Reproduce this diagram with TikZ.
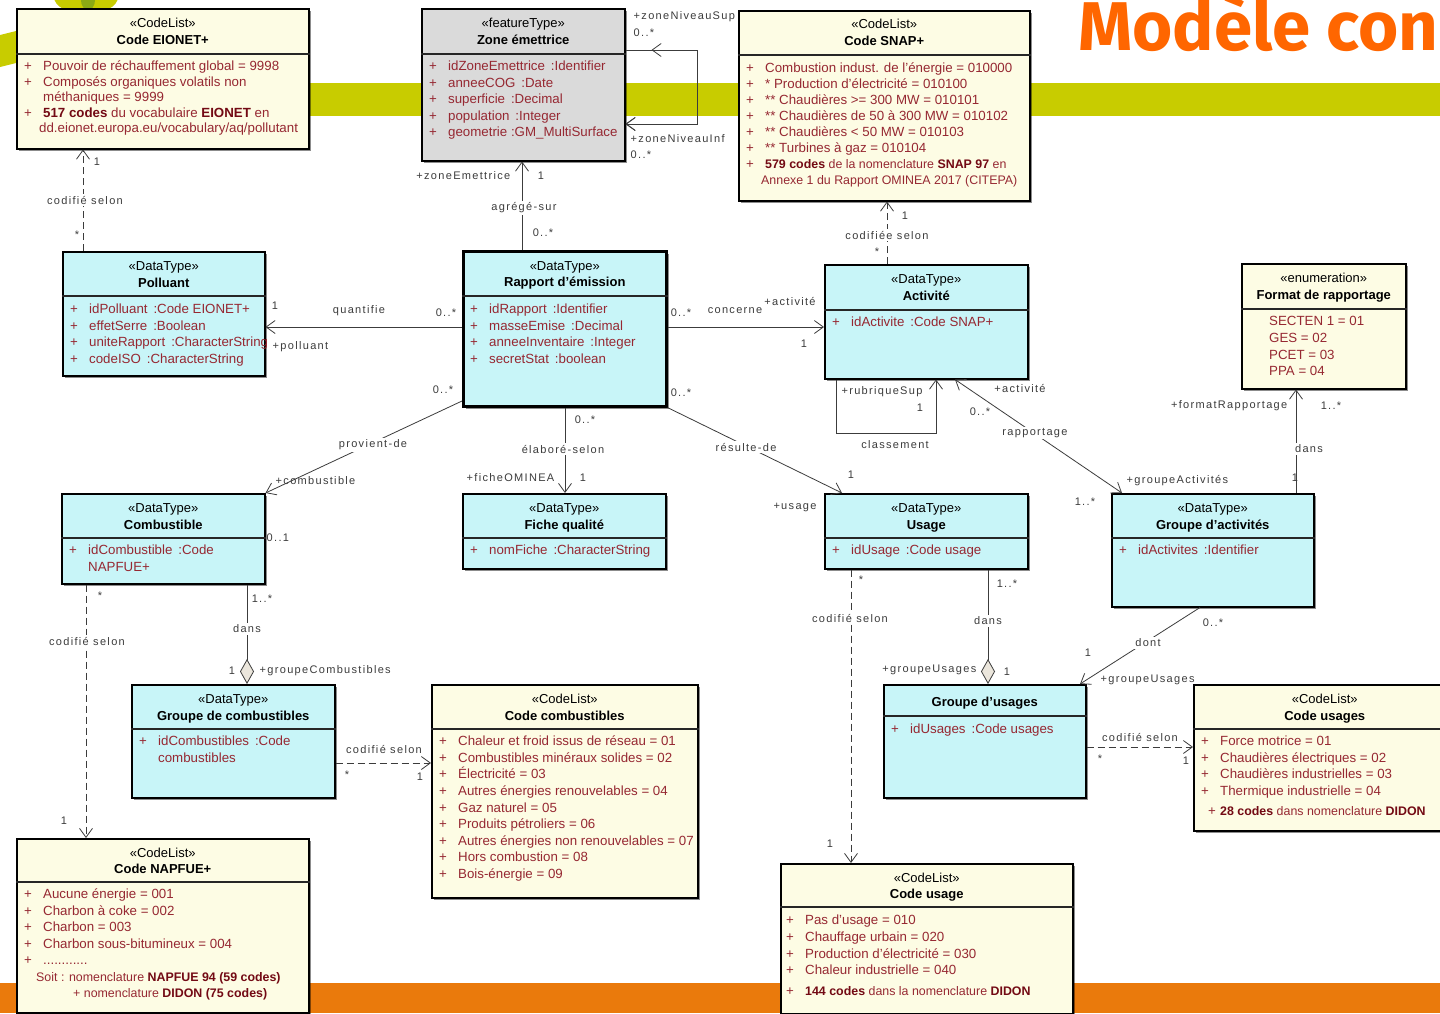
\documentclass[tikz,border=0pt]{standalone}
\usepackage{fontspec}
\setmainfont{Liberation Sans}
\newfontfamily\labfont[LetterSpace=12]{Liberation Sans}
\newfontfamily\titlefont{Fira Sans}
\usetikzlibrary{arrows.meta,shadows,calc}
\definecolor{cyanbox}{RGB}{200,245,248}
\definecolor{creambox}{RGB}{253,252,228}
\definecolor{graybox}{RGB}{218,218,218}
\definecolor{attrc}{RGB}{150,40,50}
\definecolor{attrb}{RGB}{115,10,20}
\definecolor{labc}{RGB}{60,60,60}
\definecolor{linec}{RGB}{60,60,60}
\definecolor{diamc}{RGB}{235,230,220}
\definecolor{greenA}{RGB}{200,204,0}
\definecolor{greenB}{RGB}{140,170,20}
\definecolor{orangeA}{RGB}{234,122,12}
\definecolor{titlec}{RGB}{255,102,0}
\newcommand\ap{\makebox[19pt][l]{+}}
\newcommand\ai{\hspace*{19pt}}
\newcommand\fs{\rule{0pt}{10pt}}
\newcommand\bd[1]{\textcolor{attrb}{\textbf{#1}}}
\newcommand\sm[1]{{\fontsize{12.4}{16}\selectfont #1}}
\newcommand\uclass[7]{% name, style, x, y, w, h, divider offset
  \node[#2, minimum width=#5pt, minimum height=#6pt] (#1) at (#3,#4) {};
  \draw[divl] ($(#1.north west)+(0,#7)$) -- ($(#1.north east)+(0,#7)$);
}
\newcommand\uhead[3]{\node[hdr] (#1H) at ($(#1.north)+(0,#2)$) {\fs #3};}
\newcommand\uattr[5]{\node[attr, font=\fontsize{13.3}{#4}\selectfont] (#1A) at ($(#1.north west)+(#2,#3)$) {\fs #5};}
\newcounter{lc}
\newcommand\lbl[3][]{\stepcounter{lc}\node[lab,#1] (l\arabic{lc}) at (#2) {#3};}
\begin{document}
\begin{tikzpicture}[x=1pt,y=-1pt,
  box/.style={draw=black, line width=1.5pt, inner sep=0pt, anchor=north west,
    drop shadow={shadow xshift=2.5pt,shadow yshift=-2.5pt,opacity=0.45,fill=black}},
  dt/.style={box, fill=cyanbox},
  cl/.style={box, fill=creambox},
  ft/.style={box, fill=graybox},
  divl/.style={line width=1.2pt, draw=black!85},
  hdr/.style={align=center, inner sep=0pt, anchor=north, font=\fontsize{13}{16.5}\selectfont},
  attr/.style={align=left, inner sep=0pt, anchor=north west, text=attrc},
  lab/.style={inner sep=0.5pt, text=labc, font=\labfont\fontsize{11}{12}\selectfont},
  labw/.style={fill=white, inner sep=1.5pt},
  assoc/.style={draw=linec, line width=0.8pt},
  dep/.style={assoc, dash pattern=on 7pt off 4pt},
  oarr/.style={-{Straight Barb[length=9pt,width=13pt]}},
  barbs/.style={{Straight Barb[length=9pt,width=13pt]}-{Straight Barb[length=9pt,width=13pt]}},
  dia/.style={{Diamond[length=25pt,width=14pt,fill=diamc]}-},
]
\useasboundingbox (0,0) rectangle (1440,1013);
\begin{scope}
\clip (0,0) rectangle (1440,1013);
% background decoration
\fill[white] (0,0) rectangle (1440,1013);
\fill[greenA] (100,83) rectangle (1440,116);
\fill[greenA] (0,35) -- (16,31) -- (16,63) -- (0,67) -- cycle;
\fill[greenA] (86,-3) ellipse [x radius=32, y radius=17];
\fill[greenB] (88,0) ellipse [x radius=7, y radius=10];
\fill[orangeA] (0,983) rectangle (1440,1013);
\node[anchor=base west, inner sep=0pt, text=titlec, font=\titlefont\bfseries\fontsize{69}{70}\selectfont] (title) at (1078,50) {Modèle con};

% classes
\uclass{eio}{cl}{16}{8}{292}{140}{46}
\uhead{eio}{9.5}{«CodeList»\\\textbf{Code EIONET+}}
\uattr{eio}{8}{52.5}{15.5}{\ap Pouvoir de réchauffement global = 9998\\
\ap Composés organiques volatils non\\
\ai méthaniques = 9999\\
\ap\bd{517 codes} du vocabulaire \bd{EIONET} en\\
\hspace*{-4pt}\ai dd.eionet.europa.eu/vocabulary/aq/pollutant}

\uclass{zone}{ft}{421}{8}{203}{152}{46}
\uhead{zone}{9.5}{«featureType»\\\textbf{Zone émettrice}}
\uattr{zone}{8}{52.5}{16.5}{\ap idZoneEmettrice\, :Identifier\\
\ap anneeCOG\, :Date\\
\ap superficie\, :Decimal\\
\ap population\, :Integer\\
\ap geometrie :GM\_MultiSurface}

\uclass{snap}{cl}{738}{10}{291}{190}{45}
\uhead{snap}{8.5}{«CodeList»\\\textbf{Code SNAP+}}
\uattr{snap}{8}{52.5}{16}{\ap Combustion indust. de l'énergie = 010000\\
\ap * Production d'électricité = 010100\\
\ap ** Chaudières >= 300 MW = 010101\\
\ap ** Chaudières de 50 à 300 MW = 010102\\
\ap ** Chaudières < 50 MW = 010103\\
\ap ** Turbines à gaz = 010104\\
\ap\sm{\bd{579 codes} de la nomenclature \bd{SNAP 97} en}\\
\hspace*{-4pt}\ai\sm{Annexe 1 du Rapport OMINEA 2017 (CITEPA)}}

\uclass{pol}{dt}{62}{251}{202}{124}{45}
\uhead{pol}{9.5}{«DataType»\\\textbf{Polluant}}
\uattr{pol}{8}{52.5}{16.5}{\ap idPolluant\, :Code EIONET+\\
\ap effetSerre\, :Boolean\\
\ap uniteRapport\, :CharacterString\\
\ap codeISO\, :CharacterString}

\uclass{rap}{dt,line width=2.6pt}{462}{250}{203}{155}{46}
\uhead{rap}{10}{«DataType»\\\textbf{Rapport d'émission}}
\uattr{rap}{8}{53.5}{16.5}{\ap idRapport\, :Identifier\\
\ap masseEmise\, :Decimal\\
\ap anneeInventaire\, :Integer\\
\ap secretStat\, :boolean}

\uclass{act}{dt}{824}{264}{203}{114}{46}
\uhead{act}{9.5}{«DataType»\\\textbf{Activité}}
\uattr{act}{8}{52.5}{16.5}{\ap idActivite\, :Code SNAP+}

\uclass{fmt}{cl}{1241}{263}{164}{125}{46}
\uhead{fmt}{9.5}{«enumeration»\\\textbf{Format de rapportage}}
\uattr{fmt}{28}{52.5}{16.7}{SECTEN 1 = 01\\ GES = 02\\ PCET = 03\\ PPA = 04}

\uclass{comb}{dt}{61}{493}{203}{90}{45}
\uhead{comb}{9.5}{«DataType»\\\textbf{Combustible}}
\uattr{comb}{8}{51.5}{16.5}{\ap idCombustible\, :Code\\ \ai NAPFUE+}

\uclass{fiche}{dt}{462}{493}{203}{75}{45}
\uhead{fiche}{9.5}{«DataType»\\\textbf{Fiche qualité}}
\uattr{fiche}{8}{51.5}{16.5}{\ap nomFiche\, :CharacterString}

\uclass{usage}{dt}{824}{493}{203}{75}{45}
\uhead{usage}{9.5}{«DataType»\\\textbf{Usage}}
\uattr{usage}{8}{51.5}{16.5}{\ap idUsage\, :Code usage}

\uclass{gact}{dt}{1111}{493}{202}{113}{45}
\uhead{gact}{9.5}{«DataType»\\\textbf{Groupe d'activités}}
\uattr{gact}{8}{51.5}{16.5}{\ap idActivites\, :Identifier}

\uclass{gcomb}{dt}{131}{684}{203}{113}{45}
\uhead{gcomb}{9.5}{«DataType»\\\textbf{Groupe de combustibles}}
\uattr{gcomb}{8}{51.5}{16.5}{\ap idCombustibles\, :Code\\ \ai combustibles}

\uclass{ccomb}{cl}{431}{684}{266}{213}{45}
\uhead{ccomb}{9.5}{«CodeList»\\\textbf{Code combustibles}}
\uattr{ccomb}{8}{51.5}{16.6}{\ap Chaleur et froid issus de réseau = 01\\
\ap Combustibles minéraux solides = 02\\
\ap Électricité = 03\\
\ap Autres énergies renouvelables = 04\\
\ap Gaz naturel = 05\\
\ap Produits pétroliers = 06\\
\ap Autres énergies non renouvelables = 07\\
\ap Hors combustion = 08\\
\ap Bois-énergie = 09}

\uclass{gus}{dt}{883}{684}{202}{113}{32}
\uhead{gus}{12.5}{\textbf{Groupe d'usages}}
\uattr{gus}{8}{39.5}{16.5}{\ap idUsages\, :Code usages}

\uclass{cus}{cl}{1193}{684}{262}{146}{45}
\uhead{cus}{9.5}{«CodeList»\\\textbf{Code usages}}
\uattr{cus}{8}{51.5}{16.5}{\ap Force motrice = 01\\
\ap Chaudières électriques = 02\\
\ap Chaudières industrielles = 03\\
\ap Thermique industrielle = 04\\[3.5pt]
\hspace*{7pt}\makebox[12pt][l]{+}\sm{\bd{28 codes} dans nomenclature \bd{DIDON}}}

\uclass{napfue}{cl}{16}{838}{292}{174}{44}
\uhead{napfue}{9}{«CodeList»\\\textbf{Code NAPFUE+}}
\uattr{napfue}{8}{50.5}{16.5}{\ap Aucune énergie = 001\\
\ap Charbon à coke = 002\\
\ap Charbon = 003\\
\ap Charbon sous-bitumineux = 004\\
\ap ............\\
\hspace*{12pt}\sm{Soit : nomenclature \bd{NAPFUE 94 (59 codes)}}\\
\hspace*{49pt}\sm{+ nomenclature \bd{DIDON (75 codes)}}}

\uclass{cusage}{cl}{780}{863}{292}{150}{44}
\uhead{cusage}{9}{«CodeList»\\\textbf{Code usage}}
\uattr{cusage}{6}{51.5}{16.7}{\ap Pas d'usage = 010\\
\ap Chauffage urbain = 020\\
\ap Production d'électricité = 030\\
\ap Chaleur industrielle = 040\\[4pt]
\ap\sm{\bd{144 codes} dans la nomenclature \bd{DIDON}}}

% connectors
\draw[dep, oarr] (pol.north -| 83,0) -- (eio.south -| 83,0);
\draw[assoc, oarr] (rap.north -| 522,0) -- (zone.south -| 522,0);
\draw[assoc, dia] (zone.east |- 0,50) -- ++(72,0) coordinate (zr) |- (zone.east |- 0,124) [oarr];
\draw[assoc, oarr] (zone.east |- 0,124) ++(72,0) -- (zone.east |- 0,124);
\draw[assoc, oarr] (zr) -- ($(zone.east |- 0,50)+(26,0)$);
\draw[assoc, oarr] (rap.west |- 0,327) -- (pol.east |- 0,327);
\draw[assoc, oarr] (rap.east |- 0,327) -- (act.west |- 0,327);
\draw[dep, oarr] (act.north -| 887,0) -- (snap.south -| 887,0);
\draw[assoc, oarr] (act.south -| 836,0) -- ++(0,54) -| (act.south -| 936,0);
\draw[assoc, barbs] (gact.north -| 1122,0) -- (act.south -| 955,0);
\draw[assoc, oarr] (gact.north -| 1296,0) -- (fmt.south -| 1296,0);
\draw[assoc, oarr] (rap.west |- 0,401) -- (comb.north east);
\draw[assoc, oarr] (rap.south -| 565,0) -- (fiche.north -| 565,0);
\draw[assoc, oarr] (rap.south east) -- (usage.north -| 842,0);
\draw[dep, oarr] (comb.south -| 86,0) -- (napfue.north -| 86,0);
\draw[assoc, dia] (gcomb.north -| 247,0) -- (comb.south -| 247,0);
\draw[dep, oarr] (gcomb.east |- 0,763) -- (ccomb.west |- 0,763);
\draw[dep, oarr] (usage.south -| 851,0) -- (cusage.north -| 851,0);
\draw[assoc, dia] (gus.north -| 988,0) -- (usage.south -| 988,0);
\draw[assoc, oarr] (gact.south -| 1200,0) -- (gus.north -| 1080,0);
\draw[dep, oarr] (gus.east |- 0,747) -- (cus.west |- 0,747);

% labels
\lbl{97,162}{1}
\lbl[labw]{85,200}{codifié selon}
\lbl{77,235}{*}
\lbl[anchor=east]{511,176}{+zoneEmettrice}
\lbl{541,176}{1}
\lbl[labw]{524,208}{agrégé-sur}
\lbl{543,233}{0..*}
\lbl[anchor=west]{633,17}{+zoneNiveauSup}
\lbl[anchor=west]{633,33}{0..*}
\lbl[anchor=west]{630,139}{+zoneNiveauInf}
\lbl[anchor=west]{630,155}{0..*}
\lbl{275,306}{1}
\lbl{359,311}{quantifie}
\lbl{446,313}{0..*}
\lbl[anchor=west]{272,347}{+polluant}
\lbl{681,313}{0..*}
\lbl{735,311}{concerne}
\lbl{790,301}{+activité}
\lbl{804,344}{1}
\lbl{905,216}{1}
\lbl[labw]{887,235}{codifiée selon}
\lbl{877,252}{*}
\lbl{882,392}{+rubriqueSup}
\lbl{920,408}{1}
\lbl{895,445}{classement}
\lbl{1020,388}{+activité}
\lbl{980,412}{0..*}
\lbl[labw]{1035,433}{rapportage}
\lbl[anchor=west]{1126,481}{+groupeActivités}
\lbl{1085,502}{1..*}
\lbl[anchor=east]{1288,406}{+formatRapportage}
\lbl{1331,406}{1..*}
\lbl[labw]{1309,449}{dans}
\lbl{1295,478}{1}
\lbl{443,390}{0..*}
\lbl[labw]{373,445}{provient-de}
\lbl[anchor=west]{275,481}{+combustible}
\lbl[anchor=west]{266,538}{0..1}
\lbl{585,420}{0..*}
\lbl[labw]{563,449}{élaboré-selon}
\lbl[anchor=east]{555,478}{+ficheOMINEA}
\lbl{583,478}{1}
\lbl{681,393}{0..*}
\lbl[labw]{746,447}{résulte-de}
\lbl{851,475}{1}
\lbl{795,507}{+usage}
\lbl{100,596}{*}
\lbl[labw]{87,641}{codifié selon}
\lbl{64,821}{1}
\lbl{262,599}{1..*}
\lbl[labw]{247,629}{dans}
\lbl{232,671}{1}
\lbl[anchor=west]{259,671}{+groupeCombustibles}
\lbl{384,749}{codifié selon}
\lbl{347,775}{*}
\lbl{420,777}{1}
\lbl{861,580}{*}
\lbl[labw]{850,618}{codifié selon}
\lbl{830,844}{1}
\lbl{1007,584}{1..*}
\lbl[labw]{988,621}{dans}
\lbl[anchor=east]{977,670}{+groupeUsages}
\lbl{1007,672}{1}
\lbl{1213,623}{0..*}
\lbl[labw]{1148,643}{dont}
\lbl{1088,653}{1}
\lbl[anchor=west]{1100,680}{+groupeUsages}
\lbl{1140,737}{codifié selon}
\lbl{1100,759}{*}
\lbl{1186,761}{1}
\end{scope}
\end{tikzpicture}
\end{document}
